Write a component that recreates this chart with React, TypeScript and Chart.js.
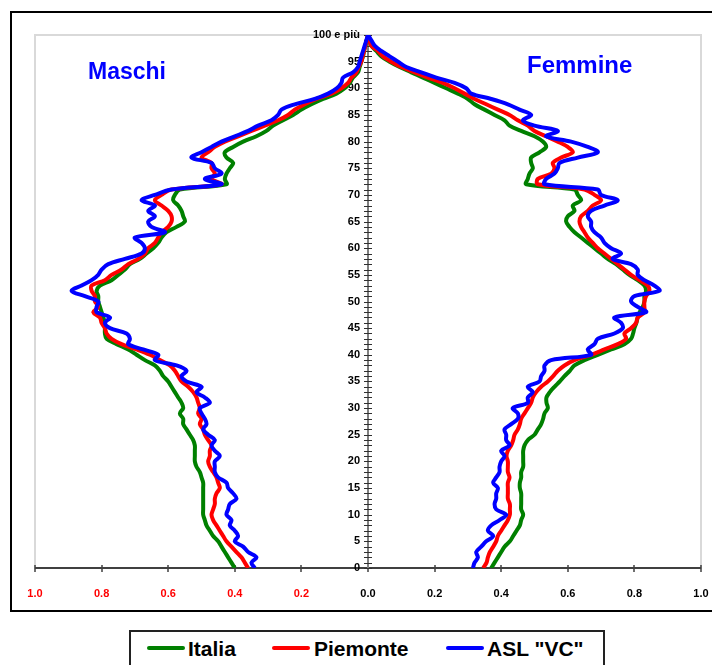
import React, { useEffect, useRef } from "react";
import { Chart, registerables } from "chart.js";

Chart.register(...registerables);

// Ages 0..100 ("100 e più")
const AGES = [
  0, 1, 2, 3, 4, 5, 6, 7, 8, 9, 10, 11, 12, 13, 14, 15, 16, 17, 18, 19, 20,
  21, 22, 23, 24, 25, 26, 27, 28, 29, 30, 31, 32, 33, 34, 35, 36, 37, 38, 39, 40,
  41, 42, 43, 44, 45, 46, 47, 48, 49, 50, 51, 52, 53, 54, 55, 56, 57, 58, 59, 60,
  61, 62, 63, 64, 65, 66, 67, 68, 69, 70, 71, 72, 73, 74, 75, 76, 77, 78, 79, 80,
  81, 82, 83, 84, 85, 86, 87, 88, 89, 90, 91, 92, 93, 94, 95, 96, 97, 98, 99, 100,
];

const AGE_TICKS = [0, 5, 10, 15, 20, 25, 30, 35, 40, 45, 50, 55, 60, 65, 70, 75, 80, 85, 90, 95, 100];
const AGE_TICK_LABELS = [
  "0", "5", "10", "15", "20", "25", "30", "35", "40", "45", "50",
  "55", "60", "65", "70", "75", "80", "85", "90", "95", "100 e più",
];

const X_TICK_VALUES = [-1, -0.8, -0.6, -0.4, -0.2, 0, 0.2, 0.4, 0.6, 0.8, 1];
const X_TICK_LABELS = ["1.0", "0.8", "0.6", "0.4", "0.2", "0.0", "0.2", "0.4", "0.6", "0.8", "1.0"];

const SERIES_NAMES = ["Italia", "Piemonte", 'ASL "VC"'];
const SERIES_COLORS = ["#008000", "#ff0000", "#0000ff"];

// Maschi (percent of population by single age), age 0..100
const MALE_ITALIA = [
  0.40, 0.41, 0.42, 0.43, 0.44, 0.45, 0.465, 0.475, 0.485, 0.49, 0.495,
  0.495, 0.495, 0.495, 0.495, 0.495, 0.495, 0.50, 0.505, 0.515, 0.52,
  0.52, 0.52, 0.52, 0.525, 0.535, 0.545, 0.555, 0.555, 0.565, 0.555,
  0.56, 0.57, 0.58, 0.59, 0.60, 0.615, 0.625, 0.64, 0.67, 0.695,
  0.72, 0.755, 0.785, 0.79, 0.79, 0.79, 0.795, 0.80, 0.805, 0.81,
  0.81, 0.815, 0.805, 0.77, 0.75, 0.73, 0.715, 0.685, 0.665, 0.645,
  0.63, 0.62, 0.605, 0.575, 0.55, 0.555, 0.56, 0.57, 0.585, 0.58,
  0.565, 0.425, 0.43, 0.425, 0.415, 0.405, 0.425, 0.43, 0.405, 0.375,
  0.335, 0.305, 0.285, 0.255, 0.225, 0.20, 0.17, 0.135, 0.095, 0.07,
  0.055, 0.045, 0.03, 0.025, 0.02, 0.015, 0.012, 0.008, 0.004, 0.0,
];
const MALE_PIEMONTE = [
  0.36, 0.37, 0.38, 0.395, 0.41, 0.425, 0.435, 0.445, 0.455, 0.465, 0.47,
  0.465, 0.46, 0.46, 0.455, 0.445, 0.45, 0.455, 0.465, 0.475, 0.48,
  0.475, 0.475, 0.47, 0.48, 0.49, 0.495, 0.505, 0.50, 0.51, 0.505,
  0.51, 0.515, 0.525, 0.54, 0.56, 0.57, 0.58, 0.595, 0.625, 0.655,
  0.695, 0.74, 0.77, 0.785, 0.79, 0.80, 0.805, 0.825, 0.81, 0.82,
  0.82, 0.83, 0.83, 0.79, 0.77, 0.74, 0.72, 0.69, 0.67, 0.66,
  0.64, 0.63, 0.62, 0.60, 0.59, 0.59, 0.60, 0.62, 0.64, 0.62,
  0.59, 0.44, 0.47, 0.46, 0.47, 0.47, 0.50, 0.48, 0.46, 0.43,
  0.39, 0.35, 0.31, 0.27, 0.24, 0.22, 0.19, 0.155, 0.11, 0.08,
  0.06, 0.05, 0.035, 0.028, 0.02, 0.016, 0.012, 0.008, 0.004, 0.0,
];
const MALE_ASL_VC = [
  0.34, 0.35, 0.335, 0.36, 0.375, 0.40, 0.39, 0.40, 0.415, 0.41, 0.425,
  0.42, 0.415, 0.395, 0.405, 0.42, 0.425, 0.45, 0.46, 0.46, 0.46,
  0.445, 0.46, 0.47, 0.46, 0.48, 0.495, 0.485, 0.49, 0.50, 0.505,
  0.475, 0.49, 0.515, 0.50, 0.545, 0.56, 0.545, 0.575, 0.64, 0.63,
  0.675, 0.72, 0.715, 0.725, 0.775, 0.79, 0.775, 0.815, 0.815, 0.81,
  0.85, 0.89, 0.86, 0.83, 0.81, 0.80, 0.78, 0.73, 0.68, 0.67,
  0.68, 0.70, 0.61, 0.65, 0.66, 0.64, 0.66, 0.64, 0.68, 0.64,
  0.59, 0.44, 0.49, 0.44, 0.46, 0.47, 0.53, 0.50, 0.47, 0.44,
  0.40, 0.36, 0.33, 0.29, 0.27, 0.26, 0.22, 0.16, 0.12, 0.094,
  0.08, 0.075, 0.045, 0.03, 0.025, 0.02, 0.015, 0.01, 0.005, 0.0,
];

// Femmine, age 0..100
const FEMALE_ITALIA = [
  0.37, 0.38, 0.39, 0.40, 0.41, 0.426, 0.436, 0.446, 0.456, 0.46, 0.466,
  0.46, 0.46, 0.46, 0.46, 0.456, 0.456, 0.46, 0.46, 0.466, 0.466,
  0.466, 0.466, 0.47, 0.48, 0.50, 0.51, 0.52, 0.526, 0.53, 0.54,
  0.536, 0.536, 0.546, 0.56, 0.576, 0.59, 0.606, 0.62, 0.65, 0.69,
  0.73, 0.77, 0.79, 0.796, 0.80, 0.806, 0.81, 0.816, 0.825, 0.83,
  0.83, 0.835, 0.83, 0.81, 0.785, 0.765, 0.745, 0.72, 0.70, 0.68,
  0.66, 0.64, 0.62, 0.605, 0.595, 0.60, 0.62, 0.615, 0.64, 0.63,
  0.62, 0.475, 0.48, 0.485, 0.495, 0.49, 0.49, 0.515, 0.535, 0.525,
  0.50, 0.46, 0.425, 0.41, 0.38, 0.35, 0.32, 0.30, 0.27, 0.235,
  0.20, 0.165, 0.13, 0.095, 0.065, 0.04, 0.025, 0.01, 0.005, 0.0,
];
const FEMALE_PIEMONTE = [
  0.346, 0.356, 0.36, 0.366, 0.376, 0.385, 0.39, 0.40, 0.41, 0.42, 0.426,
  0.426, 0.426, 0.42, 0.42, 0.42, 0.42, 0.425, 0.42, 0.42, 0.42,
  0.416, 0.42, 0.43, 0.436, 0.44, 0.45, 0.456, 0.46, 0.47, 0.48,
  0.49, 0.495, 0.505, 0.52, 0.54, 0.556, 0.57, 0.59, 0.62, 0.67,
  0.71, 0.75, 0.775, 0.77, 0.79, 0.805, 0.81, 0.83, 0.83, 0.83,
  0.835, 0.845, 0.84, 0.815, 0.79, 0.77, 0.75, 0.73, 0.71, 0.69,
  0.675, 0.66, 0.65, 0.64, 0.635, 0.64, 0.66, 0.675, 0.70, 0.68,
  0.65, 0.51, 0.51, 0.55, 0.56, 0.555, 0.58, 0.615, 0.60, 0.57,
  0.535, 0.50, 0.48, 0.45, 0.425, 0.39, 0.355, 0.32, 0.29, 0.26,
  0.225, 0.18, 0.14, 0.10, 0.07, 0.045, 0.03, 0.01, 0.005, 0.0,
];
const FEMALE_ASL_VC = [
  0.315, 0.32, 0.33, 0.325, 0.34, 0.355, 0.376, 0.36, 0.37, 0.395, 0.415,
  0.385, 0.38, 0.385, 0.385, 0.39, 0.376, 0.385, 0.395, 0.395, 0.40,
  0.41, 0.40, 0.425, 0.415, 0.415, 0.41, 0.43, 0.45, 0.45, 0.435,
  0.48, 0.48, 0.495, 0.48, 0.515, 0.52, 0.53, 0.53, 0.55, 0.67,
  0.66, 0.68, 0.69, 0.74, 0.765, 0.76, 0.74, 0.835, 0.81, 0.79,
  0.80, 0.875, 0.86, 0.83, 0.81, 0.81, 0.79, 0.735, 0.76, 0.73,
  0.71, 0.70, 0.68, 0.67, 0.67, 0.66, 0.67, 0.71, 0.75, 0.70,
  0.69, 0.53, 0.535, 0.56, 0.57, 0.575, 0.63, 0.69, 0.66, 0.61,
  0.535, 0.57, 0.50, 0.465, 0.49, 0.455, 0.42, 0.37, 0.31, 0.295,
  0.26, 0.205, 0.16, 0.115, 0.09, 0.065, 0.04, 0.02, 0.01, 0.0,
];

const FONT = "'Liberation Sans', Arial, Helvetica, sans-serif";

const pyramidPlugin = {
  id: "pyramidAxes",
  beforeDatasetsDraw(chart: any) {
    const { ctx, chartArea: a, scales } = chart;
    const x = scales.x;
    const y = scales.y;
    ctx.save();
    // plot area border
    ctx.strokeStyle = "#d9d9d9";
    ctx.lineWidth = 2;
    ctx.strokeRect(a.left, a.top, a.right - a.left, a.bottom - a.top);

    // horizontal axis with crossing tick marks
    ctx.strokeStyle = "#404040";
    ctx.lineWidth = 2;
    ctx.beginPath();
    ctx.moveTo(a.left, a.bottom);
    ctx.lineTo(a.right, a.bottom);
    ctx.stroke();
    ctx.lineWidth = 1.5;
    ctx.beginPath();
    for (const v of X_TICK_VALUES) {
      const px = Math.round(x.getPixelForValue(v));
      ctx.moveTo(px, a.bottom - 3);
      ctx.lineTo(px, a.bottom + 4);
    }
    ctx.stroke();

    // central age axis
    const cx = Math.round(x.getPixelForValue(0));
    ctx.strokeStyle = "#808080";
    ctx.lineWidth = 2;
    ctx.beginPath();
    ctx.moveTo(cx, a.top);
    ctx.lineTo(cx, a.bottom);
    ctx.stroke();
    ctx.strokeStyle = "#303030";
    ctx.lineWidth = 1;
    ctx.beginPath();
    for (const age of AGES) {
      const py = Math.round(y.getPixelForValue(age)) + 0.5;
      ctx.moveTo(cx - 4, py);
      ctx.lineTo(cx + 4, py);
    }
    ctx.stroke();

    // age labels
    ctx.fillStyle = "#000";
    ctx.font = `bold 11px ${FONT}`;
    ctx.textAlign = "right";
    ctx.textBaseline = "middle";
    AGE_TICKS.forEach((t, i) => {
      ctx.fillText(AGE_TICK_LABELS[i], cx - 8, y.getPixelForValue(t));
    });

    // side titles
    ctx.fillStyle = "#0000ff";
    ctx.textAlign = "left";
    ctx.textBaseline = "alphabetic";
    ctx.font = `bold 23px ${FONT}`;
    ctx.fillText("Maschi", 88, 79);
    ctx.font = `bold 24px ${FONT}`;
    ctx.fillText("Femmine", 527, 73);
    ctx.restore();
  },
};

function toPoints(values: number[], sign: number) {
  return values.map((v, i) => ({ x: sign * v, y: AGES[i] }));
}

export default function App() {
  const canvasRef = useRef<HTMLCanvasElement | null>(null);

  useEffect(() => {
    const canvas = canvasRef.current;
    if (!canvas) return;
    const maleSets = [MALE_ITALIA, MALE_PIEMONTE, MALE_ASL_VC];
    const femaleSets = [FEMALE_ITALIA, FEMALE_PIEMONTE, FEMALE_ASL_VC];
    const datasets: any[] = [];
    for (let i = 0; i < 3; i++) {
      const common = {
        borderColor: SERIES_COLORS[i],
        backgroundColor: SERIES_COLORS[i],
        borderWidth: 4,
        pointRadius: 0,
        pointHoverRadius: 0,
        tension: 0.35,
        fill: false,
        order: 3 - i,
      };
      datasets.push({ label: SERIES_NAMES[i] + " M", data: toPoints(maleSets[i], -1), ...common });
      datasets.push({ label: SERIES_NAMES[i] + " F", data: toPoints(femaleSets[i], 1), ...common });
    }
    const chart = new Chart(canvas, {
      type: "line",
      data: { datasets },
      plugins: [pyramidPlugin],
      options: {
        animation: false,
        responsive: false,
        maintainAspectRatio: false,
        layout: { padding: { left: 35, right: 11, top: 35, bottom: 0 } },
        plugins: { legend: { display: false }, tooltip: { enabled: false } },
        scales: {
          x: {
            type: "linear",
            min: -1,
            max: 1,
            afterBuildTicks: (scale: any) => {
              scale.ticks = X_TICK_VALUES.map((v) => ({ value: v }));
            },
            afterFit: (scale: any) => {
              scale.height = 44;
              scale.paddingLeft = 0;
              scale.paddingRight = 0;
            },
            grid: { display: false },
            border: { display: false },
            ticks: {
              autoSkip: false,
              maxRotation: 0,
              padding: 11,
              font: { family: FONT, size: 11, weight: "bold" },
              color: (c: any) => (c.index < 5 ? "#ff0000" : "#000000"),
              callback: (_v: any, idx: number) => X_TICK_LABELS[idx],
            },
          },
          y: {
            type: "linear",
            min: 0,
            max: 100,
            display: false,
          },
        },
      },
    });
    return () => chart.destroy();
  }, []);

  const legendItems = [
    { line: 147, text: 188 },
    { line: 272, text: 314 },
    { line: 446, text: 487 },
  ];

  return (
    <div
      style={{
        position: "absolute",
        left: 0,
        top: 0,
        width: 712,
        height: 665,
        overflow: "hidden",
        background: "#fff",
      }}
    >
      <div
        style={{
          position: "absolute",
          left: 10,
          top: 11,
          width: 712,
          height: 597,
          border: "2px solid #000",
        }}
      />
      <canvas
        ref={canvasRef}
        width={712}
        height={612}
        style={{ position: "absolute", left: 0, top: 0, width: 712, height: 612 }}
      />
      <div
        style={{
          position: "absolute",
          left: 129,
          top: 630,
          width: 472,
          height: 60,
          border: "2px solid #222",
        }}
      />
      {legendItems.map((it, i) => (
        <React.Fragment key={i}>
          <div
            style={{
              position: "absolute",
              left: it.line,
              top: 646,
              width: 38,
              height: 4,
              borderRadius: 2,
              background: SERIES_COLORS[i],
            }}
          />
          <div
            style={{
              position: "absolute",
              left: it.text,
              top: 637,
              font: `bold 21px ${FONT}`,
              color: "#000",
              whiteSpace: "pre",
            }}
          >
            {SERIES_NAMES[i]}
          </div>
        </React.Fragment>
      ))}
    </div>
  );
}
